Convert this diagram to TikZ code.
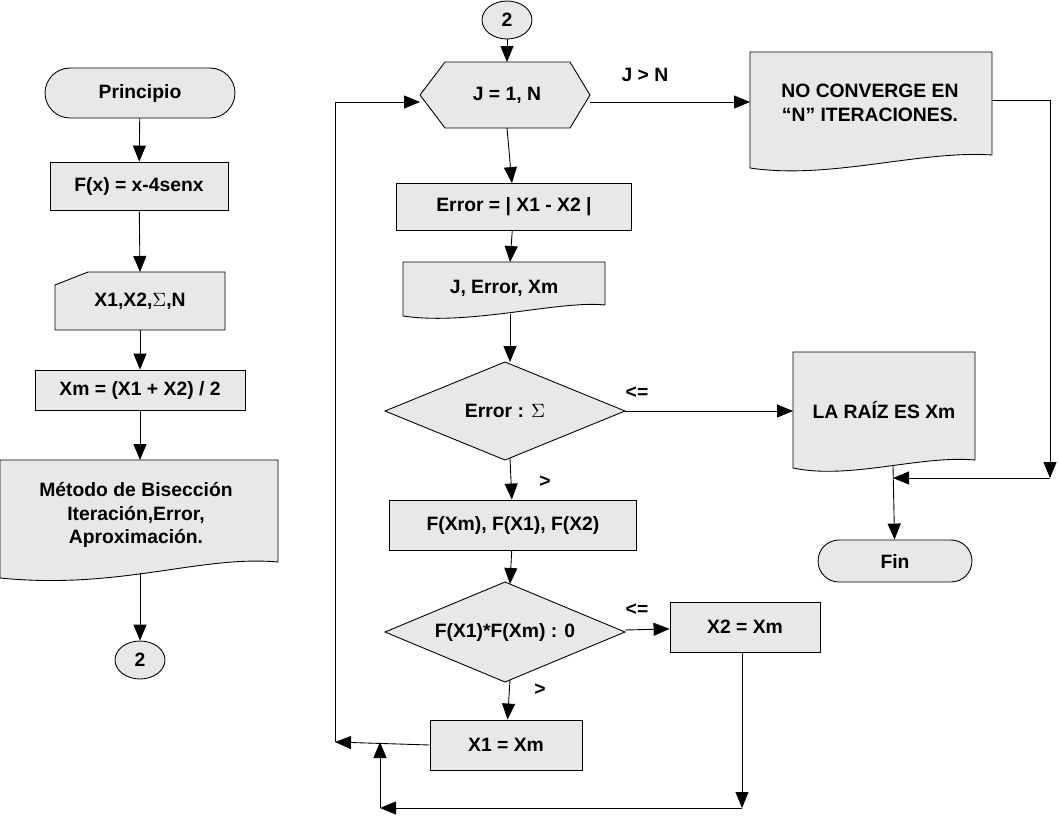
\documentclass[tikz,border=0pt]{standalone}
\usepackage{fontspec}
\setmainfont{Liberation Sans}
\usetikzlibrary{arrows.meta,shapes.geometric}
\begin{document}
\begin{tikzpicture}[x=0.02cm,y=-0.02cm,
  every node/.style={font=\fontsize{11}{13.5}\selectfont\bfseries, align=center},
  fillc/.style={fill=gray!18, draw=black, line width=0.5pt},
  box/.style={fillc, rectangle, inner sep=0pt},
  lbl/.style={font=\fontsize{11}{13}\selectfont\bfseries},
  arrow/.style={-{Triangle[length=3.2mm,width=2.6mm]}, line width=0.5pt},
  line/.style={line width=0.5pt}
]
\useasboundingbox (0,0) rectangle (1059,819);

% left column
\node[box, rounded corners=0.5cm, minimum width=3.8cm, minimum height=1cm] (princ) at (140,93) {Principio};
\node[box, minimum width=3.56cm, minimum height=0.96cm] (fx) at (139,186) {F(x) = x-4senx};
\draw[fillc] (55,285) -- (88,272) -- (225,272) -- (225,330) -- (55,330) -- cycle;
\node (inp) at (140,301) {X1,X2,$\Sigma$,N};
\coordinate (inpT) at (140,272);
\coordinate (inpB) at (140,330);
\node[box, minimum width=4.2cm, minimum height=0.8cm] (xm) at (140,390) {Xm = (X1 + X2) / 2};
\draw[fillc] (0,460) -- (278,460) -- (278,562) .. controls (200,555) and (120,590) .. (0,578) -- cycle;
\node (metodo) at (136,515) {M\'etodo de Bisecci\'on\\Iteraci\'on,Error,\\Aproximaci\'on.};
\coordinate (metT) at (140,460);
\coordinate (metB) at (140,573);
\node[box, ellipse, minimum width=1cm, minimum height=0.76cm] (c2a) at (140,660) {2};

\draw[arrow] (princ) -- (fx);
\draw[arrow] (fx) -- (inpT);
\draw[arrow] (inpB) -- (xm);
\draw[arrow] (xm) -- (metT);
\draw[arrow] (metB) -- (c2a);

% middle column
\node[box, ellipse, minimum width=1cm, minimum height=0.76cm] (c2b) at (507,20) {2};
\draw[fillc] (420,95) -- (445,62) -- (570,62) -- (590,95) -- (570,128) -- (445,128) -- cycle;
\node (hex) at (507,95) {J = 1, N};
\coordinate (hexT) at (507,62);
\coordinate (hexB) at (507,128);
\coordinate (hexW) at (420,102);
\coordinate (hexE) at (590,102);
\node[box, minimum width=4.7cm, minimum height=0.94cm] (err) at (514,207) {Error = | X1 - X2 |};
\draw[fillc] (403,262) -- (605,262) -- (605,305) .. controls (560,300) and (470,326) .. (403,316) -- cycle;
\node (jex) at (504,288) {J, Error, Xm};
\coordinate (jexT) at (510,262);
\coordinate (jexB) at (510,314);
\draw[fillc] (385,411) -- (505,362) -- (625,411) -- (505,460) -- cycle;
\node (d1) at (505,411) {Error : $\Sigma$};
\coordinate (d1T) at (510,362);
\coordinate (d1B) at (510,458);
\coordinate (d1E) at (625,411);
\node[box, minimum width=4.94cm, minimum height=1cm] (fxm) at (513,525) {F(Xm), F(X1), F(X2)};
\draw[fillc] (385,632) -- (505,582) -- (625,632) -- (505,682) -- cycle;
\node (d2) at (505,632) {F(X1)*F(Xm) : 0};
\coordinate (d2T) at (510,584);
\coordinate (d2B) at (510,680);
\coordinate (d2E) at (625,630);
\node[box, minimum width=3.04cm, minimum height=1cm] (x1) at (506,745) {X1 = Xm};
\node[box, minimum width=3cm, minimum height=1cm] (x2) at (745,627) {X2 = Xm};

% right column
\draw[fillc] (750,52) -- (992,52) -- (992,155) .. controls (920,150) and (830,180) .. (750,168) -- cycle;
\node (noconv) at (870,103) {NO CONVERGE EN\\``N'' ITERACIONES.};
\coordinate (ncW) at (750,102);
\coordinate (ncE) at (992,100);
\draw[fillc] (793,352) -- (975,352) -- (975,460) .. controls (920,455) and (850,480) .. (793,468) -- cycle;
\node (raiz) at (884,410) {LA RA\'IZ ES Xm};
\coordinate (rzW) at (793,411);
\coordinate (rzB) at (893,466);
\node[box, rounded corners=0.42cm, minimum width=3.08cm, minimum height=0.84cm] (fin) at (895,561) {Fin};

% connectors
\draw[arrow] (c2b) -- (hexT);
\draw[arrow] (hexB) -- (err);
\draw[arrow] (err) -- (jexT);
\draw[arrow] (jexB) -- (d1T);
\draw[arrow] (d1B) -- (fxm);
\draw[arrow] (fxm) -- (d2T);
\draw[arrow] (d2B) -- (x1);
\draw[arrow] (hexE) -- (ncW);
\draw[arrow] (d1E) -- (rzW);
\draw[arrow] (d2E) -- (x2);
\coordinate (ncR) at (1050,100);
\coordinate (ncD) at (1050,478);
\coordinate (rzJ) at (893,478);
\draw[line] (ncE) -- (ncR);
\draw[arrow] (ncR) -- (ncD);
\draw[arrow] (ncD) -- (rzJ);
\draw[arrow] (rzB) -- (fin);
\coordinate (x2D) at (742,808);
\coordinate (lpB) at (380,808);
\coordinate (lpU) at (380,742);
\draw[arrow] (x2.south -| x2D) -- (x2D);
\draw[arrow] (x2D) -- (lpB);
\draw[arrow] (lpB) -- (lpU);
\coordinate (lpL) at (335,742);
\coordinate (lpT) at (335,102);
\draw[arrow] (x1.west) -- (lpL);
\draw[line] (lpL) -- (lpT);
\draw[arrow] (lpT) -- (hexW);

% labels
\node[lbl] at (645,75) {J > N};
\node[lbl] at (637,393) {<=};
\node[lbl] at (545,482) {>};
\node[lbl] at (637,610) {<=};
\node[lbl] at (540,690) {>};
\end{tikzpicture}
\end{document}
